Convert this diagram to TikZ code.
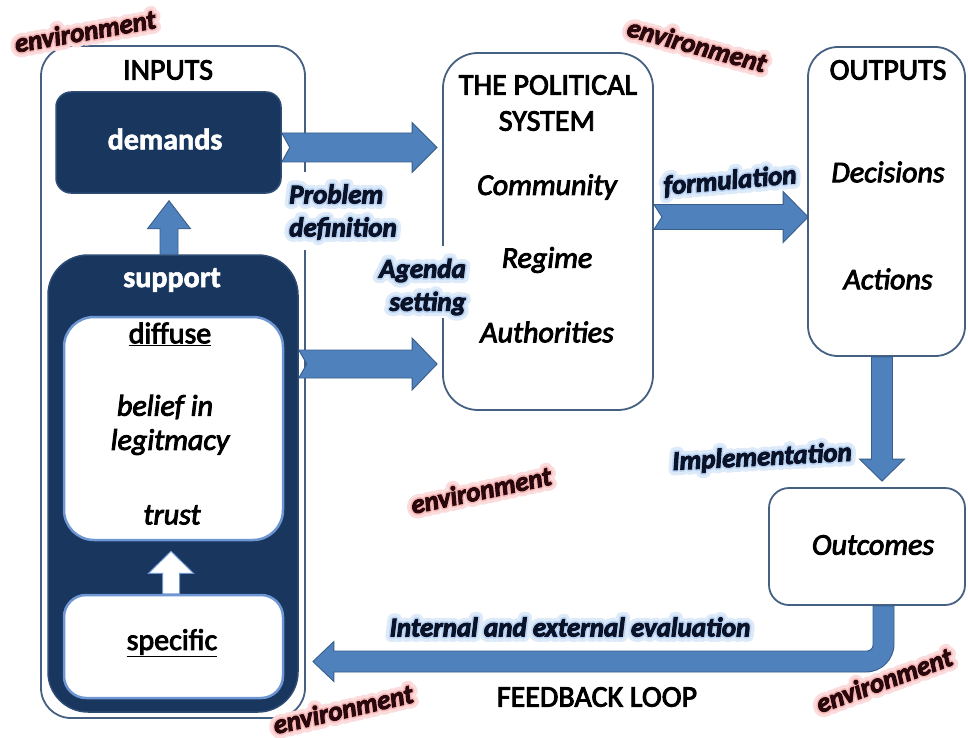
\documentclass[tikz,border=0pt]{standalone}
\usepackage{fontspec}
\setmainfont{Carlito}[UprightFeatures={FakeBold=3}, ItalicFeatures={FakeBold=3}, BoldFeatures={FakeBold=2}, BoldItalicFeatures={FakeBold=3.5}]
\newfontfamily\glowA{Carlito}[BoldItalicFeatures={FakeBold=40}]
\newfontfamily\glowB{Carlito}[BoldItalicFeatures={FakeBold=16}]
\usetikzlibrary{calc}
\definecolor{bordc}{RGB}{70,96,130}
\definecolor{navy}{RGB}{24,54,94}
\definecolor{navyb}{RGB}{45,75,115}
\definecolor{arrf}{RGB}{79,129,189}
\definecolor{arrd}{RGB}{56,93,138}
\definecolor{lightb}{RGB}{110,150,210}
\definecolor{glowb}{RGB}{120,170,230}
\definecolor{glowr}{RGB}{240,110,110}
\definecolor{labtxt}{RGB}{10,18,40}
\definecolor{envtxt}{RGB}{40,8,12}
\newcommand\fmain{\fontsize{30}{36}\selectfont}
\newcommand\fsize{\fontsize{27}{33}\selectfont}
\newcommand\glowlabel[5]{% #1 name, #2 options, #3 pos, #4 glow colour, #5 text
  \node[#2, line join=round, font=\fsize\glowA\bfseries\itshape, text=#4!25] at (#3) {#5};
  \node[#2, line join=round, font=\fsize\glowB\bfseries\itshape, text=#4!50] at (#3) {#5};
  \node[#2] (#1) at (#3) {#5};
}
\newcommand\rarrow[7]{\path[#1] let \p1=(#2), \p2=(#3) in
  (\x1,\y1+#4) -- (\x2-#6,\y1+#4) -- (\x2-#6,\y1+#5) -- (\x2,\y1) --
  (\x2-#6,\y1-#5) -- (\x2-#6,\y1-#4) -- (\x1,\y1-#4) -- (\x1+#7,\y1) -- cycle;}
\newcommand\darrow[6]{\path[#1] let \p1=(#2), \p2=(#3) in
  (\x1-#4,\y1) -- (\x1-#4,\y2+#6) -- (\x1-#5,\y2+#6) -- (\x1,\y2) --
  (\x1+#5,\y2+#6) -- (\x1+#4,\y2+#6) -- (\x1+#4,\y1) -- cycle;}
\newcommand\uarrow[6]{\path[#1] let \p1=(#2), \p2=(#3) in
  (\x1-#4,\y1) -- (\x1-#4,\y2-#6) -- (\x1-#5,\y2-#6) -- (\x1,\y2) --
  (\x1+#5,\y2-#6) -- (\x1+#4,\y2-#6) -- (\x1+#4,\y1) -- cycle;}
\tikzset{
  box/.style={draw=bordc, line width=1.8pt, fill=white, inner sep=0pt},
  navybox/.style={draw=navyb, line width=1.5pt, fill=navy, inner sep=0pt},
  wbox/.style={draw=lightb, line width=2.5pt, fill=white, inner sep=0pt},
  txt/.style={inner sep=0pt, font=\fmain, text=black},
  wtxt/.style={inner sep=0pt, font=\fmain\bfseries, text=white},
  itxt/.style={inner sep=0pt, font=\fmain\itshape, text=black},
  arrst/.style={fill=arrf, draw=arrd, line width=0.9pt},
  warr/.style={fill=white, draw=lightb, line width=1pt},
  lab/.style={inner sep=0pt, font=\fsize\bfseries\itshape, text=labtxt},
  envl/.style={inner sep=0pt, font=\fsize\bfseries\itshape, text=envtxt},
}
\begin{document}
\begin{tikzpicture}[x=1pt,y=-1pt]
\useasboundingbox[fill=white] (0,0) rectangle (968,738);
% boxes
\node[box, rounded corners=30pt, minimum width=264pt, minimum height=672pt] (inp) at (173,382) {};
\node[navybox, rounded corners=15pt, minimum width=225pt, minimum height=101pt] (dem) at (168.5,142.5) {};
\node[navybox, rounded corners=40pt, minimum width=250pt, minimum height=457pt] (sup) at (173,483.5) {};
\node[wbox, rounded corners=30pt, minimum width=219pt, minimum height=223pt] (dif) at (173.5,428.5) {};
\node[wbox, rounded corners=22pt, minimum width=219pt, minimum height=103pt] (spec) at (173.5,646.5) {};
\node[box, rounded corners=35pt, minimum width=210pt, minimum height=357pt] (pol) at (548,231.5) {};
\node[box, rounded corners=30pt, minimum width=157pt, minimum height=309pt] (out) at (886.5,201.5) {};
\node[box, rounded corners=20pt, minimum width=196pt, minimum height=117pt] (outc) at (867,546.5) {};
% texts in boxes
\node[txt] (tinp) at (168,70) {INPUTS};
\node[wtxt] (tdem) at (165,139) {demands};
\node[wtxt] (tsup) at (172,280) {support};
\node[txt] (tdif) at (170,334) {\underline{diffuse}};
\node[itxt] (tbel) at (165,407) {belief in};
\node[itxt] (tleg) at (170,442) {legitmacy};
\node[itxt] (ttru) at (172,515) {trust};
\node[txt] (tspe) at (172,643) {\underline{specific}};
\node[txt] (tpol1) at (548,85) {THE POLITICAL};
\node[txt] (tpol2) at (547,121) {SYSTEM};
\node[itxt] (tcom) at (547,187) {Community};
\node[itxt] (treg) at (547,260) {Regime};
\node[itxt] (taut) at (547,332) {Authorities};
\node[txt] (tout) at (888,70) {OUTPUTS};
\node[itxt] (tdec) at (888,172) {Decisions};
\node[itxt] (tact) at (888,279) {Actions};
\node[itxt] (toc) at (873,545) {Outcomes};
\node[txt] (tfb) at (597,697) {FEEDBACK LOOP};
% arrows
\coordinate (a1s) at ($(dem.east)+(0,5)$);
\coordinate (a1t) at ($(pol.west)+(-5,0)$);
\rarrow{arrst}{a1s}{a1t}{14.5pt}{25pt}{25pt}{8pt}
\coordinate (a2s) at ($(sup.east)+(0,-119.5)$);
\coordinate (a2t) at ($(pol.west)+(-5,0)$);
\rarrow{arrst}{a2s}{a2t}{14pt}{26pt}{25pt}{8pt}
\coordinate (a3s) at ($(pol.east)+(0,-14.5)$);
\coordinate (a3t) at ($(out.west)+(1,0)$);
\rarrow{arrst}{a3s}{a3t}{12.5pt}{25.5pt}{25pt}{8pt}
\coordinate (a4s) at ($(out.south)+(-4.5,0)$);
\coordinate (a4t) at ($(outc.north)+(0,-6)$);
\darrow{arrst}{a4s}{a4t}{10.5pt}{22.5pt}{22pt}
\coordinate (a5s) at ($(sup.north)+(-4,0)$);
\coordinate (a5t) at ($(dem.south)+(0,7)$);
\uarrow{arrst}{a5s}{a5t}{9pt}{21.5pt}{28pt}
\coordinate (a6s) at ($(spec.north)+(-2.5,0)$);
\coordinate (a6t) at ($(dif.south)+(0,10)$);
\uarrow{warr}{a6s}{a6t}{8.5pt}{22.5pt}{22pt}
\coordinate (fbs) at ($(outc.south)+(16.5,0)$);
\coordinate (fbt) at ($(inp.east)+(7,279.5)$);
\path[arrst] let \p1=(fbs), \p2=(fbt) in
  (\x1-10.5pt,\y1) -- (\x1-10.5pt,\y2+16.5pt) arc[start angle=0,end angle=-90,radius=6pt]
  -- (\x2+21pt,\y2+10.5pt) -- (\x2+21pt,\y2+20pt) -- (\x2,\y2) -- (\x2+21pt,\y2-20pt)
  -- (\x2+21pt,\y2-10.5pt) -- (\x1+10.5pt-28pt,\y2-10.5pt) arc[start angle=-90,end angle=0,radius=28pt]
  -- (\x1+10.5pt,\y1) -- cycle;
% white patches behind labels
\fill[white] (287,172) rectangle (402,250);
\fill[white] (372,246) rectangle (468,318);
% labels
\glowlabel{lpd}{lab, anchor=west, align=left}{289,212}{glowb}{Problem\\definition}
\glowlabel{las}{lab, anchor=east, align=right}{466,287}{glowb}{Agenda\\setting}
\glowlabel{lfo}{lab, rotate=5}{730,181}{glowb}{formulation}
\glowlabel{lim}{lab, rotate=3}{762,458}{glowb}{Implementation}
\glowlabel{lev}{lab}{570,627}{glowb}{Internal and external evaluation}
\glowlabel{le1}{envl, rotate=10}{85,31}{glowr}{environment}
\glowlabel{le2}{envl, rotate=-15}{697,45}{glowr}{environment}
\glowlabel{le3}{envl, rotate=12}{481,490}{glowr}{environment}
\glowlabel{le4}{envl, rotate=13}{343,709}{glowr}{environment}
\glowlabel{le5}{envl, rotate=20}{884,680}{glowr}{environment}
\end{tikzpicture}
\end{document}
